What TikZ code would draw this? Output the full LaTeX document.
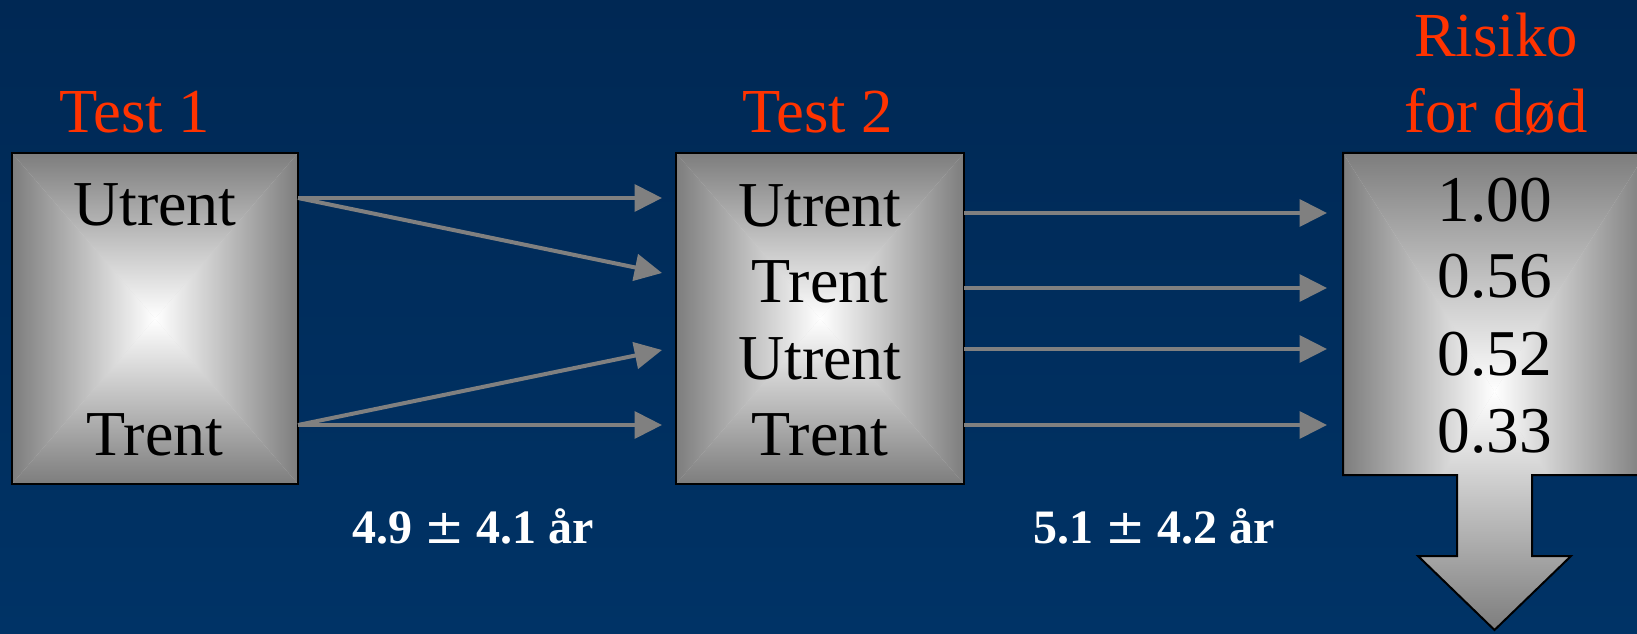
\documentclass[tikz,border=0pt]{standalone}
\usepackage{fontspec}
\setmainfont{Liberation Serif}
\newfontfamily\pmfont{DejaVu Serif}
\usetikzlibrary{arrows.meta}

\definecolor{navytop}{RGB}{0,40,84}
\definecolor{navybot}{RGB}{0,51,102}
\definecolor{edgegray}{RGB}{125,125,125}
\definecolor{titlered}{RGB}{255,51,0}
\definecolor{linkgray}{RGB}{128,128,128}

% Rectangular "from centre" gradient: four triangles, grey at the edges, white in the middle
\newcommand\quadshade[4]{%
  \shade[top color=edgegray,bottom color=white] (#1,#2) -- (#3,#2) -- ({(#1+#3)/2},{(#2+#4)/2}) -- cycle;
  \shade[top color=white,bottom color=edgegray] (#1,#4) -- (#3,#4) -- ({(#1+#3)/2},{(#2+#4)/2}) -- cycle;
  \shade[left color=edgegray,right color=white] (#1,#2) -- (#1,#4) -- ({(#1+#3)/2},{(#2+#4)/2}) -- cycle;
  \shade[left color=white,right color=edgegray] (#3,#2) -- (#3,#4) -- ({(#1+#3)/2},{(#2+#4)/2}) -- cycle;
}
% Wide plus-minus sign
\newcommand\wpm{{\pmfont\mdseries ±}}

\begin{document}
\begin{tikzpicture}[x=0.75pt,y=-0.75pt,
  boxline/.style={draw=black,line width=1.5pt},
  link/.style={draw=linkgray,line width=3pt,-{Triangle[length=20.5pt,width=20pt]}},
  heading/.style={text=titlered,font=\fontsize{47}{56}\selectfont,inner sep=0pt,anchor=base},
  entry/.style={text=black,font=\fontsize{48}{57}\selectfont,inner sep=0pt,anchor=base},
  digits/.style={entry,font=\fontsize{49}{58}\selectfont},
  span/.style={text=white,font=\bfseries\fontsize{36}{42}\selectfont,inner sep=0pt,anchor=base}]

\useasboundingbox (0,0) rectangle (1637,634);
\clip (0,0) rectangle (1637,634);
\shade[top color=navytop,bottom color=navybot] (0,0) rectangle (1637,634);

% Test 1 box
\fill[gray!30] (12,153) rectangle (298,484);
\quadshade{12}{153}{298}{484}
\draw[boxline] (12,153) rectangle (298,484);

% Test 2 box
\fill[gray!30] (676,153) rectangle (964,484);
\quadshade{676}{153}{964}{484}
\draw[boxline] (676,153) rectangle (964,484);

% Risk box with downward arrow
\def\riskpath{(1343,153) -- (1646,153) -- (1646,475) -- (1532,475) -- (1532,556) -- (1571,556) -- (1494.5,630) -- (1418,556) -- (1457,556) -- (1457,475) -- (1343,475) -- cycle}
\begin{scope}
  \clip \riskpath;
  \fill[gray!30] (1343,153) rectangle (1646,630);
  \quadshade{1343}{153}{1646}{630}
\end{scope}
\draw[boxline] \riskpath;

% Headings
\node[heading] (h1) at (134.5,133) {Test 1};
\node[heading] (h2) at (817.5,133) {Test 2};
\node[heading] (h3a) at (1496,57) {Risiko};
\node[heading] (h3b) at (1496,133) {for død};

% Box contents
\node[entry] (a1) at (155,226) {Utrent};
\node[entry] (a2) at (155,455) {Trent};

\node[entry] (b1) at (820,227) {Utrent};
\node[entry] (b2) at (820,303) {Trent};
\node[entry] (b3) at (820,379) {Utrent};
\node[entry] (b4) at (820,455) {Trent};

\node[digits] (r1) at (1495,222) {1.00};
\node[digits] (r2) at (1495,298) {0.56};
\node[digits] (r3) at (1495,375) {0.52};
\node[digits] (r4) at (1495,452) {0.33};

% Follow-up times
\node[span] (s1) at (473.5,543) {4.9 \wpm{} 4.1 år};
\node[span] (s2) at (1154,543) {5.1 \wpm{} 4.2 år};

% Connector ends
\coordinate (o1u) at (298,198);
\coordinate (o1t) at (298,425);
\coordinate (i2a) at (662,198);
\coordinate (i2b) at (662,273);
\coordinate (i2c) at (662,350);
\coordinate (i2d) at (662,425);
\coordinate (o2a) at (964,213);
\coordinate (o2b) at (964,288);
\coordinate (o2c) at (964,349);
\coordinate (o2d) at (964,425);
\coordinate (i3a) at (1327,213);
\coordinate (i3b) at (1327,288);
\coordinate (i3c) at (1327,349);
\coordinate (i3d) at (1327,425);

% Test 1 -> Test 2
\draw[link] (o1u) -- (i2a);
\draw[link] (o1u) -- (i2b);
\draw[link] (o1t) -- (i2c);
\draw[link] (o1t) -- (i2d);

% Test 2 -> risk
\draw[link] (o2a) -- (i3a);
\draw[link] (o2b) -- (i3b);
\draw[link] (o2c) -- (i3c);
\draw[link] (o2d) -- (i3d);
\end{tikzpicture}
\end{document}
